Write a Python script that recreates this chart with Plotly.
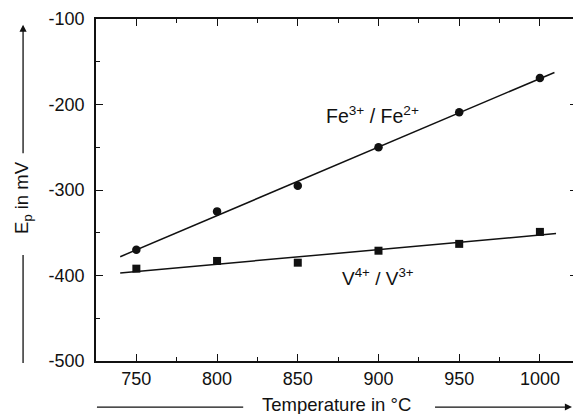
import plotly.graph_objects as go

# ---- data ----
temps = [750, 800, 850, 900, 950, 1000]
fe_values = [-370, -325, -295, -250, -209, -169]
v_values = [-392, -383, -385, -371, -363, -349]

# regression lines (end points)
fe_fit_x = [740, 1009]
fe_fit_y = [-378, -162.5]
v_fit_x = [740, 1010]
v_fit_y = [-397, -351]

x_ticks = [750, 800, 850, 900, 950, 1000]
y_ticks = [-100, -200, -300, -400, -500]
y_tick_text = ["-100", "-200", "-300", "-400", "-500"]

FONT = "Liberation Sans, Arial, sans-serif"
INK = "#111111"

fig = go.Figure()

fig.add_trace(go.Scatter(x=fe_fit_x, y=fe_fit_y, mode="lines",
                         line=dict(color=INK, width=1.5), showlegend=False))
fig.add_trace(go.Scatter(x=v_fit_x, y=v_fit_y, mode="lines",
                         line=dict(color=INK, width=1.5), showlegend=False))
fig.add_trace(go.Scatter(x=temps, y=fe_values, mode="markers",
                         marker=dict(symbol="circle", size=8.5, color=INK),
                         showlegend=False))
fig.add_trace(go.Scatter(x=temps, y=v_values, mode="markers",
                         marker=dict(symbol="square", size=8, color=INK),
                         showlegend=False))
# invisible trace for the right-hand tick axis
fig.add_trace(go.Scatter(x=[temps[0]], y=[fe_values[0]], yaxis="y2",
                         mode="markers", marker=dict(opacity=0),
                         showlegend=False, hoverinfo="skip"))

fig.update_layout(
    width=573, height=414,
    margin=dict(l=96, r=0, t=19, b=53),
    paper_bgcolor="white", plot_bgcolor="white",
    font=dict(family=FONT, color=INK),
    xaxis=dict(
        range=[725, 1020.5], tickvals=x_ticks,
        ticks="inside", ticklen=7, tickwidth=1.4, tickcolor=INK,
        minor=dict(ticks="inside", ticklen=4, tickwidth=1.2, tickcolor=INK,
                   tick0=725, dtick=25),
        showline=True, linecolor=INK, linewidth=1.6, mirror="ticks",
        showgrid=False, zeroline=False,
        tickfont=dict(size=18, family=FONT, color=INK),
        ticklabelstandoff=1,
    ),
    yaxis=dict(
        range=[-500, -100], tickvals=y_ticks, ticktext=y_tick_text,
        ticks="inside", ticklen=7, tickwidth=1.4, tickcolor=INK,
        minor=dict(ticks="inside", ticklen=4, tickwidth=1.2, tickcolor=INK,
                   tick0=-500, dtick=50),
        showline=True, linecolor=INK, linewidth=1.6, mirror=False,
        showgrid=False, zeroline=False,
        tickfont=dict(size=18, family=FONT, color=INK),
        ticklabelstandoff=6,
    ),
    yaxis2=dict(
        range=[-500, -100], tickvals=[-200, -300, -400],
        overlaying="y", side="right",
        ticks="inside", ticklen=3, tickwidth=1.4, tickcolor=INK,
        showline=False, showgrid=False, zeroline=False,
        showticklabels=False,
    ),
)

# series labels
fig.add_annotation(x=896, y=-212, xref="x", yref="y",
                   xanchor="center", yanchor="middle",
                   text="Fe<sup>3+</sup> / Fe<sup>2+</sup>", showarrow=False,
                   font=dict(size=19.5, family=FONT, color=INK))
fig.add_annotation(x=900, y=-402, xref="x", yref="y",
                   xanchor="center", yanchor="middle",
                   text="V<sup>4+</sup> / V<sup>3+</sup>", showarrow=False,
                   font=dict(size=19, family=FONT, color=INK))

# axis titles
fig.add_annotation(x=-0.1529, y=0.477, xref="paper", yref="paper",
                   xanchor="center", yanchor="middle",
                   text="E<sub>p</sub> in mV", textangle=-90, showarrow=False,
                   font=dict(size=18.5, family=FONT, color=INK))
fig.add_annotation(x=0.5045, y=-0.1275, xref="paper", yref="paper",
                   xanchor="center", yanchor="middle",
                   text="Temperature in °C", showarrow=False,
                   font=dict(size=18.5, family=FONT, color=INK))

# decorative arrows / lines beside axis titles
fig.add_annotation(x=-0.1529, y=0.9833, xref="paper", yref="paper",
                   ax=0, ay=130, text="", showarrow=True, arrowhead=2,
                   arrowsize=1.1, arrowwidth=1.3, arrowcolor=INK, standoff=0)
fig.add_shape(type="line", xref="paper", yref="paper",
              x0=-0.1529, x1=-0.1529, y0=0.310, y1=-0.006,
              line=dict(color=INK, width=1.3))
fig.add_shape(type="line", xref="paper", yref="paper",
              x0=0.002, x1=0.3086, y0=-0.1346, y1=-0.1346,
              line=dict(color=INK, width=1.3))
fig.add_annotation(x=0.999, y=-0.1346, xref="paper", yref="paper",
                   ax=-139, ay=0, text="", showarrow=True, arrowhead=2,
                   arrowsize=1.1, arrowwidth=1.3, arrowcolor=INK, standoff=0)

fig.write_html("out.html")
